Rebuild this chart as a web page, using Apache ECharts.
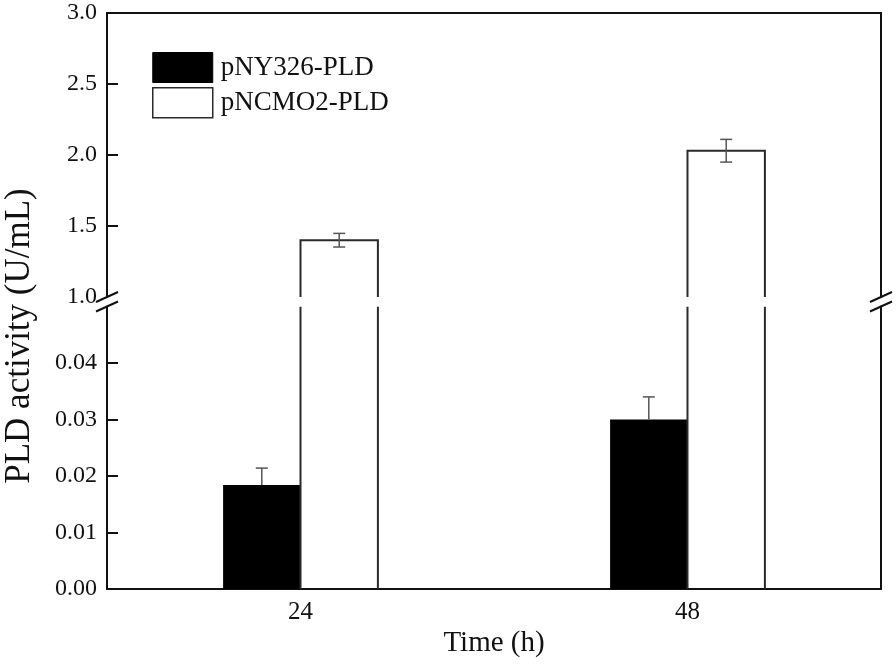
<!DOCTYPE html>
<html>
<head>
<meta charset="utf-8">
<script src="https://cdn.jsdelivr.net/npm/echarts@6/dist/echarts.min.js"></script>
<style>html,body{margin:0;padding:0;background:#fff}#c{width:896px;height:667px}</style>
</head>
<body>
<div id="c"></div>
<script>
// ---- data ----
const categories = ['24', '48'];
const pny326 = [0.0184, 0.0300];
const pny326Err = [0.0030, 0.0040];
const pncmo2 = [1.40, 2.03];
const pncmo2Err = [0.048, 0.080];
const upperLabels = [1.0, 1.5, 2.0, 2.5, 3.0];
const upperTicks = [1.5, 2.0, 2.5];
const lowerLabels = [0.00, 0.01, 0.02, 0.03, 0.04];
const lowerTicks = [0.01, 0.02, 0.03, 0.04];
const upperMin = 1.0, upperMax = 3.0;
const lowerMin = 0, lowerMax = 0.05;

// ---- style / layout ----
const FONT = 'Liberation Serif';
const INK = '#111';
const BAR_FRAC = 0.2;
const GL = 107, GR = 15;
const UP_TOP = 13, UP_BOT = 297;
const LO_TOP = 306.5, LO_BOT = 589;

const chart = echarts.init(document.getElementById('c'), null, {renderer: 'canvas'});

function blackBar(params, api) {
  const i = api.value(0), v = api.value(1);
  const b = api.coord([i, lowerMin]);
  const t = api.coord([i, v]);
  const w = api.size([1, 0])[0] * BAR_FRAC;
  return {type: 'rect', shape: {x: b[0] - w, y: t[1], width: w, height: b[1] - t[1]}, style: {fill: '#000'}};
}
function whiteBar(axisMin, axisMax) {
  return function (params, api) {
    const i = api.value(0), v = api.value(1);
    const b = api.coord([i, axisMin]);
    const t = api.coord([i, Math.min(v, axisMax)]);
    const w = api.size([1, 0])[0] * BAR_FRAC;
    const st = {stroke: '#2a2a2a', lineWidth: 2, fill: null};
    if (v > axisMax) {
      return {type: 'group', children: [
        {type: 'line', shape: {x1: b[0], y1: b[1], x2: b[0], y2: t[1]}, style: st},
        {type: 'line', shape: {x1: b[0] + w, y1: b[1], x2: b[0] + w, y2: t[1]}, style: st}
      ]};
    }
    return {type: 'polyline', shape: {points: [[b[0], b[1]], [b[0], t[1]], [b[0] + w, t[1]], [b[0] + w, b[1]]]}, style: st};
  };
}
function errBar(side, upperOnly) {
  return function (params, api) {
    const i = api.value(0), v = api.value(1), e = api.value(2);
    const w = api.size([1, 0])[0] * BAR_FRAC;
    const hi = api.coord([i, v + e]);
    const lo = api.coord([i, upperOnly ? v : v - e]);
    const x = hi[0] + side * w / 2;
    const cap = 6;
    const st = {stroke: '#555', lineWidth: 1.5};
    const ch = [
      {type: 'line', shape: {x1: x, y1: hi[1], x2: x, y2: lo[1]}, style: st},
      {type: 'line', shape: {x1: x - cap, y1: hi[1], x2: x + cap, y2: hi[1]}, style: st}
    ];
    if (!upperOnly) ch.push({type: 'line', shape: {x1: x - cap, y1: lo[1], x2: x + cap, y2: lo[1]}, style: st});
    return {type: 'group', children: ch};
  };
}

function breakMarks(x, y1, y2) {
  const st = {stroke: INK, lineWidth: 2};
  return [
    {type: 'line', shape: {x1: x - 11, y1: y1 + 5, x2: x + 11, y2: y1 - 5}, style: st, z: 100},
    {type: 'line', shape: {x1: x - 11, y1: y2 + 5, x2: x + 11, y2: y2 - 5}, style: st, z: 100}
  ];
}
const RX = 896 - GR;

const axisLine = {show: true, onZero: false, lineStyle: {color: INK, width: 2}};
const labelStyle = {fontFamily: FONT, fontSize: 24, color: INK};

const option = {
  backgroundColor: '#fff',
  animation: false,
  grid: [
    {left: GL, right: GR, top: UP_TOP, height: UP_BOT - UP_TOP},
    {left: GL, right: GR, top: LO_TOP, height: LO_BOT - LO_TOP}
  ],
  legend: {
    orient: 'vertical', left: 152, top: 52, padding: 0, itemWidth: 60, itemHeight: 30, itemGap: 4,
    textStyle: {fontFamily: FONT, fontSize: 27, color: INK, padding: [0, 0, 0, 3]},
    data: [
      {name: 'pNY326-PLD', icon: 'rect', itemStyle: {color: '#000', borderColor: '#000', borderWidth: 1}},
      {name: 'pNCMO2-PLD', icon: 'rect', itemStyle: {color: '#fff', borderColor: '#2a2a2a', borderWidth: 1.5}}
    ]
  },
  xAxis: [
    {gridIndex: 0, type: 'category', data: categories, position: 'top', axisLine: axisLine,
     axisTick: {show: false}, axisLabel: {show: false}, splitLine: {show: false}},
    {gridIndex: 1, type: 'category', data: categories, position: 'bottom', axisLine: axisLine,
     axisTick: {show: false}, axisLabel: Object.assign({margin: 11}, labelStyle, {fontSize: 25}),
     splitLine: {show: false},
     name: 'Time (h)', nameLocation: 'middle', nameGap: 40,
     nameTextStyle: {fontFamily: FONT, fontSize: 29, color: INK}}
  ],
  yAxis: [
    {gridIndex: 0, type: 'value', position: 'left', min: upperMin, max: upperMax, interval: 0.5,
     axisLine: axisLine, splitLine: {show: false},
     axisTick: {show: true, inside: true, length: 11, lineStyle: {color: INK, width: 2}, customValues: upperTicks},
     axisLabel: Object.assign({margin: 10, customValues: upperLabels, formatter: v => Number(v).toFixed(1)}, labelStyle)},
    {gridIndex: 0, type: 'value', position: 'right', min: upperMin, max: upperMax,
     axisLine: axisLine, splitLine: {show: false}, axisTick: {show: false}, axisLabel: {show: false}},
    {gridIndex: 1, type: 'value', position: 'left', min: lowerMin, max: lowerMax, interval: 0.01,
     axisLine: axisLine, splitLine: {show: false},
     axisTick: {show: true, inside: true, length: 11, lineStyle: {color: INK, width: 2}, customValues: lowerTicks},
     axisLabel: Object.assign({margin: 10, customValues: lowerLabels, formatter: v => Number(v).toFixed(2)}, labelStyle)},
    {gridIndex: 1, type: 'value', position: 'right', min: lowerMin, max: lowerMax,
     axisLine: axisLine, splitLine: {show: false}, axisTick: {show: false}, axisLabel: {show: false}}
  ],
  series: [
    {name: 'pNY326-PLD', type: 'custom', xAxisIndex: 1, yAxisIndex: 2, clip: true,
     data: pny326.map((v, i) => [i, v]), renderItem: blackBar},
    {name: 'pNCMO2-PLD', type: 'custom', xAxisIndex: 1, yAxisIndex: 2, clip: true,
     data: pncmo2.map((v, i) => [i, v]), renderItem: whiteBar(lowerMin, lowerMax)},
    {name: 'pNCMO2-PLD', type: 'custom', xAxisIndex: 0, yAxisIndex: 0, clip: true,
     data: pncmo2.map((v, i) => [i, v]), renderItem: whiteBar(upperMin, upperMax)},
    {name: 'pNY326-PLD', type: 'custom', xAxisIndex: 1, yAxisIndex: 2, z: 5,
     data: pny326.map((v, i) => [i, v, pny326Err[i]]), renderItem: errBar(-1, true)},
    {name: 'pNCMO2-PLD', type: 'custom', xAxisIndex: 0, yAxisIndex: 0, z: 5,
     data: pncmo2.map((v, i) => [i, v, pncmo2Err[i]]), renderItem: errBar(1, false)}
  ],
  graphic: [
    {type: 'text', x: 20, y: 336, rotation: Math.PI / 2,
     style: {text: 'PLD activity (U/mL)', fontFamily: FONT, fontSize: 35, fill: INK, textAlign: 'center', textVerticalAlign: 'middle'}}
  ].concat(breakMarks(GL, UP_BOT, LO_TOP)).concat(breakMarks(RX, UP_BOT, LO_TOP))
};
chart.setOption(option);
</script>
</body>
</html>
